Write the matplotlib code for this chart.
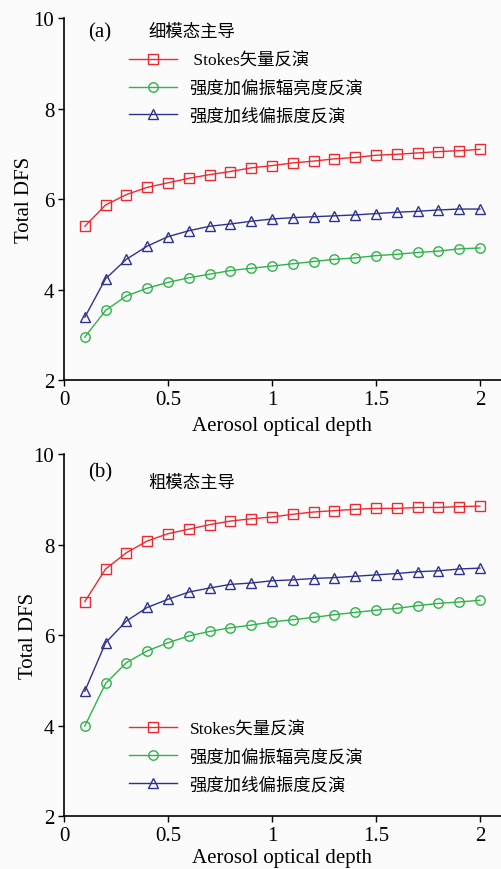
import numpy as np
import matplotlib
matplotlib.use("Agg")
import matplotlib.pyplot as plt

plt.rcParams["font.family"] = ["Liberation Serif", "Noto Sans CJK SC"]

aod = [0.1, 0.2, 0.3, 0.4, 0.5, 0.6, 0.7, 0.8, 0.9, 1.0,
       1.1, 1.2, 1.3, 1.4, 1.5, 1.6, 1.7, 1.8, 1.9, 2.0]

# (a) fine-mode dominated
fine_stokes = [5.40, 5.87, 6.10, 6.26, 6.36, 6.46, 6.54, 6.61, 6.69, 6.74,
               6.80, 6.84, 6.89, 6.92, 6.97, 6.99, 7.02, 7.05, 7.07, 7.10]
fine_ipol = [2.95, 3.54, 3.86, 4.03, 4.16, 4.26, 4.34, 4.42, 4.47, 4.52,
             4.57, 4.62, 4.67, 4.70, 4.75, 4.78, 4.82, 4.85, 4.90, 4.92]
fine_idolp = [3.39, 4.24, 4.67, 4.96, 5.17, 5.30, 5.40, 5.45, 5.51, 5.56,
              5.59, 5.61, 5.63, 5.65, 5.68, 5.71, 5.73, 5.76, 5.78, 5.78]

# (b) coarse-mode dominated
coarse_stokes = [6.74, 7.46, 7.82, 8.08, 8.24, 8.34, 8.44, 8.52, 8.57, 8.61,
                 8.67, 8.72, 8.75, 8.78, 8.80, 8.80, 8.82, 8.82, 8.84, 8.85]
coarse_ipol = [3.99, 4.93, 5.39, 5.65, 5.83, 5.98, 6.08, 6.16, 6.22, 6.29,
               6.34, 6.39, 6.45, 6.50, 6.55, 6.59, 6.65, 6.70, 6.73, 6.77]
coarse_idolp = [4.76, 5.83, 6.31, 6.61, 6.79, 6.95, 7.04, 7.12, 7.15, 7.20,
                7.22, 7.25, 7.27, 7.30, 7.33, 7.36, 7.40, 7.42, 7.46, 7.48]

labels = ["Stokes矢量反演", "强度加偏振辐亮度反演", "强度加线偏振度反演"]
colors = ["#ee2a30", "#2fb34a", "#2e3192"]
markers = ["s", "o", "^"]
msizes = [6.6, 6.8, 7.6]

BG = "#fbfbfb"
fig = plt.figure(figsize=(5.02, 8.70), dpi=100, facecolor=BG)


def panel(rect, series, tag, title, leg_anchor, first_label, ypad, xpad):
    ax = fig.add_axes(rect, facecolor=BG)
    for i, (ys, c, m, ms) in enumerate(zip(series, colors, markers, msizes)):
        lab = first_label if i == 0 else labels[i]
        ax.plot(aod, ys, color=c, lw=1.0, marker=m, ms=ms, mfc="none",
                mec=c, mew=1.0, label=lab)
    ax.set_xlim(0, 2.1)
    ax.set_ylim(2, 10)
    ax.set_xticks([0, 0.5, 1, 1.5, 2])
    ax.set_xticklabels(["0", "0.5", "1", "1.5", "2"])
    ax.set_yticks([2, 4, 6, 8, 10])
    for s in ["top", "right"]:
        ax.spines[s].set_visible(False)
    ax.spines["left"].set_linewidth(1.2)
    ax.spines["bottom"].set_linewidth(1.2)
    ax.tick_params(direction="out", length=4, width=1.0, labelsize=15, pad=3)
    ax.set_xlabel("Aerosol optical depth", fontsize=15, labelpad=xpad)
    ax.set_ylabel("Total DFS", fontsize=15, labelpad=ypad)
    ax.text(0.055, tag[1], tag[0], transform=ax.transAxes, fontsize=15,
            va="center", ha="left")
    ax.text(0.193, title[1], title[0], transform=ax.transAxes, fontsize=12.5,
            va="center", ha="left")
    ax.legend(loc="upper left", bbox_to_anchor=leg_anchor, frameon=False,
              fontsize=12.5, handlelength=2.8, handletextpad=0.7,
              labelspacing=0.66, borderpad=0, borderaxespad=0)
    return ax


panel([0.1275, 0.562, 0.870, 0.416], [fine_stokes, fine_ipol, fine_idolp],
      ("(a)", 0.963), ("细模态主导", 0.963), (0.148, 0.905), " Stokes矢量反演",
      -0.5, 5.5)
panel([0.1275, 0.0609, 0.870, 0.416], [coarse_stokes, coarse_ipol, coarse_idolp],
      ("(b)", 0.95), ("粗模态主导", 0.92), (0.148, 0.262), "Stokes矢量反演",
      -3.5, 2.0)

fig.savefig("out.png", dpi=100, facecolor=BG)
